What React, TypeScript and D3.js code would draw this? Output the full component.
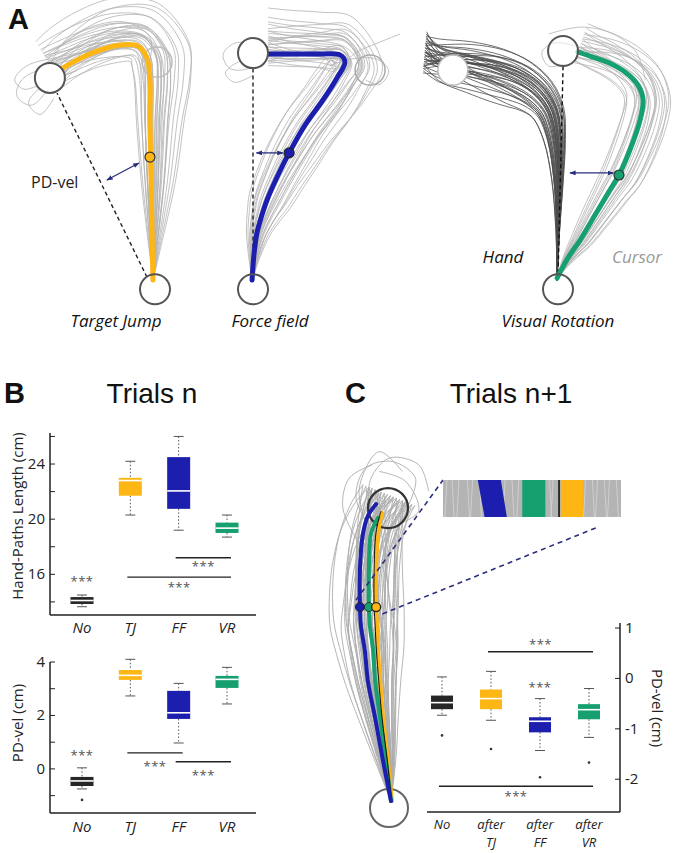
import React from 'react';
import * as d3 from 'd3';

type Pt = [number, number];

const W = 673;
const H = 853;

const YELLOW = '#fdb614';
const BLUE = '#1c1fae';
const GREEN = '#17a06f';
const BLACK = '#262626';
const SANS = '"Open Sans", "Noto Sans", sans-serif';
const ARIAL = '"Liberation Sans", Arial, sans-serif';

// ---------- Panel A: mean paths (cm from the start target, y up)
const TJ_MEAN: Pt[] = [[-0.09, 0.3], [-0.13, 2.48], [-0.17, 4.65], [-0.22, 7.26], [-0.22, 9.0], [-0.35, 9.96], [-0.74, 10.48], [-1.52, 10.52], [-2.61, 10.22], [-3.7, 9.7], [-4.35, 9.3]];
const FF_MEAN: Pt[] = [[-0.04, 0.3], [0.04, 1.39], [0.17, 2.35], [0.39, 3.13], [0.61, 3.78], [1.09, 4.87], [1.57, 5.83], [2.26, 7.04], [3.04, 8.13], [3.65, 9.09], [4.0, 9.78], [3.78, 10.09], [2.91, 10.13], [1.61, 10.13], [0.65, 10.13]];
const VR_CURSOR: Pt[] = [[-0.04, 0.39], [0.43, 1.26], [0.96, 2.04], [1.61, 3.13], [2.26, 4.22], [2.65, 4.87], [3.13, 5.96], [3.57, 7.26], [3.7, 8.13], [3.48, 8.78], [2.91, 9.35], [2.13, 9.78], [1.39, 10.04], [0.87, 10.22]];
const VR_HAND: Pt[] = [[-0.04, 0.3], [0.04, 2.48], [0.13, 4.65], [0.13, 6.39], [-0.04, 7.7], [-0.57, 8.65], [-1.43, 9.35], [-2.52, 9.78], [-3.83, 10.0], [-5.13, 10.04], [-5.8, 10.1]];

// lateral spread of single trials around the mean (cm): middle of path / end of path
const TJ_MID = [-0.75, -0.6, -0.5, -0.42, -0.35, -0.28, -0.2, -0.14, -0.08, -0.02, 0.04, 0.1, 0.16, 0.23, 0.3, 0.38, 0.46, 0.55, 0.65, 0.76, 0.88, 1.02, 1.18, 1.35, 1.55, 1.8, -0.3, 0.0, 0.2, 0.5, 0.7, -0.1, 0.35, 0.95];
const TJ_END = [0.2, -0.5, 0.6, -0.3, 0.9, 0.1, -0.7, 0.4, -0.15, 0.75, -0.35, 0.25, 1.0, -0.55, 0.5, 0.0, 1.2, -0.25, 0.85, 0.3, 1.4, -0.45, 0.65, 1.1, 1.6, 0.4, 0.5, -0.2, 0.8, 0.1, -0.4, 0.6, 1.0, 0.0];
const FF_MID = [-1.1, -0.9, -0.75, -0.6, -0.48, -0.38, -0.28, -0.2, -0.12, -0.05, 0.02, 0.1, 0.18, 0.26, 0.35, 0.45, 0.56, 0.68, 0.8, 0.95, 1.1, 1.3, -0.4, -0.15, 0.05, 0.3, 0.6, -0.7, 0.2, 0.9];
const FF_END = [0.5, -0.3, 0.8, 0.2, -0.5, 1.0, 0.0, 0.6, -0.2, 1.3, 0.3, -0.4, 0.9, 0.1, 1.6, -0.1, 0.7, 0.4, 2.0, -0.3, 1.1, 0.5, 0.2, 0.7, -0.3, 1.0, 0.4, -0.1, 1.4, 0.6];
const VR_MID = [-0.9, -0.7, -0.55, -0.42, -0.3, -0.2, -0.1, 0, 0.08, 0.16, 0.25, 0.34, 0.44, 0.55, 0.67, 0.8, 0.95, 1.1, -0.35, -0.05, 0.2, 0.5, 0.75, -0.6];
const VR_END = [0.3, -0.4, 0.6, 0.1, -0.2, 0.9, 0.2, -0.5, 0.4, 1.1, 0.0, 0.7, -0.3, 0.5, 1.3, 0.2, 0.8, -0.1, 0.4, -0.2, 0.9, 0.1, 0.6, -0.4];
const HAND_MID = [-1.8, -1.6, -1.45, -1.3, -1.18, -1.06, -0.95, -0.85, -0.76, -0.67, -0.59, -0.51, -0.44, -0.37, -0.3, -0.24, -0.18, -0.12, -0.06, 0, 0.06, 0.12, 0.19, 0.27, 0.36, 0.46, -0.9, -0.5, -0.2, -1.2, 0.1, -0.7, -0.35, -1.0, -0.8, -0.4, -0.15, -1.4, 0.25, -0.6];
const HAND_END = [0.5, -0.4, 0.8, 0.2, -0.7, 0.3, -0.1, 0.9, 0.0, -0.5, 0.4, -0.3, 0.7, 0.1, -0.8, 0.3, -0.2, 0.6, 0.1, -0.4, 0.5, -0.6, 0.8, -0.1, 0.4, -0.5, 0.2, 0.7, -0.2, 0.5, -0.3, 0.9, 0.0, -0.6, 0.6, -0.2, 0.3, 1.0, -0.5, 0.1];

const TJ_LOOPS: Pt[][] = [
  [[-3.0, 10.0], [-4.6, 9.6], [-5.8, 9.0], [-6.0, 8.3], [-5.4, 7.9], [-4.8, 8.4], [-4.5, 9.0]],
  [[-2.5, 10.3], [-4.2, 10.0], [-5.6, 9.6], [-6.1, 9.0], [-5.7, 8.6], [-5.0, 8.8]],
  [[-3.4, 9.4], [-4.8, 8.8], [-5.5, 8.0], [-5.0, 7.5], [-4.4, 8.2]],
  [[-0.3, 9.5], [-0.2, 10.8], [-1.2, 11.5], [-2.8, 11.3], [-4.2, 10.4]],
];
const FF_LOOPS: Pt[][] = [
  [[1.6, 10.2], [0.4, 10.5], [-0.8, 10.6], [-1.3, 10.1], [-1.0, 9.5], [-0.2, 9.5], [0.2, 9.9]],
  [[2.0, 10.0], [0.6, 10.0], [-0.6, 9.8], [-1.2, 9.3], [-0.8, 8.9], [0.0, 9.2]],
  [[3.6, 9.4], [4.5, 10.2], [5.4, 10.6], [6.4, 11.0]],
  [[3.3, 9.6], [4.2, 9.9], [5.4, 9.9], [5.9, 9.4], [5.5, 8.8], [4.9, 9.0]],
];
const VR_LOOPS: Pt[][] = [
  [[2.2, 9.8], [1.0, 10.4], [-0.2, 10.6], [-0.7, 10.2], [-0.4, 9.6], [0.3, 9.7]],
  [[3.8, 9.0], [3.4, 10.2], [2.4, 11.0], [1.0, 11.3], [-0.4, 11.0]],
];

// ---------- Panel C: mean paths of trials n+1 (cm, y up)
const C_BLUE: Pt[] = [[0.06, 0.21], [-0.18, 1.42], [-0.42, 2.73], [-0.64, 3.85], [-0.73, 4.76], [-0.85, 5.52], [-0.88, 6.09], [-0.88, 7.27], [-0.79, 8.3], [-0.64, 8.85], [-0.39, 9.21]];
const C_GREEN: Pt[] = [[0.06, 0.21], [-0.09, 1.42], [-0.27, 2.73], [-0.42, 3.85], [-0.48, 4.76], [-0.58, 5.52], [-0.61, 6.09], [-0.61, 7.27], [-0.55, 8.3], [-0.42, 8.64], [-0.33, 8.79]];
const C_YELLOW: Pt[] = [[0.09, 0.21], [-0.03, 1.42], [-0.18, 2.73], [-0.27, 3.85], [-0.33, 4.76], [-0.36, 5.52], [-0.39, 6.09], [-0.39, 7.27], [-0.33, 8.3], [-0.27, 8.7], [-0.21, 8.94]];
const C_NO: Pt[] = [[0.08, 0.21], [-0.05, 1.42], [-0.21, 2.73], [-0.31, 3.85], [-0.38, 4.76], [-0.42, 5.52], [-0.45, 6.09], [-0.45, 7.27], [-0.4, 8.3], [-0.3, 8.8], [-0.24, 9.0]];
const C_GRAY_MEAN: Pt[] = [[0.06, 0.21], [-0.08, 1.42], [-0.27, 2.73], [-0.42, 3.85], [-0.5, 4.76], [-0.58, 5.52], [-0.6, 6.09], [-0.58, 7.27], [-0.45, 8.3], [-0.25, 9.0], [-0.05, 9.5]];
const C_MID = [-1.05, -0.95, -0.86, -0.78, -0.7, -0.63, -0.57, -0.51, -0.46, -0.41, -0.36, -0.32, -0.28, -0.24, -0.2, -0.17, -0.14, -0.11, -0.08, -0.05, -0.02, 0.01, 0.04, 0.07, 0.1, 0.13, 0.16, 0.19, 0.23, 0.27, 0.31, 0.35, 0.4, 0.45, 0.5, 0.56, 0.62, 0.69, 0.76, 0.84, 0.92, -0.3, -0.1, 0.05, 0.2, -0.45, 0.35, -0.6, 0.55, -0.15,
  -0.38, -0.22, -0.06, 0.09, 0.25, 0.42, -0.52, 0.6, -0.12, 0.15, -0.33, 0.3, -0.02, 0.48, -0.7, 0.72];
const C_END = [-0.6, 0.3, -0.8, 0.5, -0.2, 0.7, -0.5, 0.1, 0.6, -0.7, 0.2, -0.3, 0.8, -0.1, 0.4, -0.6, 0.7, 0.0, -0.4, 0.5, -0.8, 0.3, 0.9, -0.2, 0.6, -0.5, 0.8, 0.1, -0.6, 0.4, 0.7, -0.3, 0.9, 0.2, -0.7, 0.6, 0.8, -0.1, 0.3, -0.4, 0.5, 0.1, -0.2, 0.6, -0.5, 0.2, 0.4, -0.3, 0.7, 0.0,
  0.4, -0.5, 0.2, -0.1, 0.6, -0.3, 0.1, 0.5, -0.6, 0.3, 0.0, -0.2, 0.7, -0.4, 0.2, 0.5];
const C_LOOPS: Pt[][] = [
  [[-0.5, 8.4], [-1.0, 9.4], [-0.7, 10.3], [0.1, 10.5], [0.8, 10.0], [0.6, 9.2]],
  [[-0.2, 8.8], [-0.6, 9.8], [0.0, 10.6], [0.9, 10.4], [1.2, 9.6]],
  [[-0.9, 8.0], [-1.4, 9.1], [-1.2, 10.0], [-0.5, 10.4]],
  [[0.3, 8.6], [0.9, 9.0], [0.5, 9.9], [-0.3, 10.2]],
  [[-0.7, 8.6], [-0.9, 9.7], [-0.3, 10.8], [0.4, 10.2]],
];
// zoomed inset: gray streaks behind the mean paths (cm)
const INSET_STREAKS = [-1.12, -1.09, -1.05, -1.0, -0.97, -0.93, -0.78, -0.74, -0.7, -0.66, -0.55, -0.52, -0.5, -0.34, -0.31, -0.27, -0.24, -0.2, -0.17, -0.13];

// ---------- Panel B / C box plots
type Box = { cat: string; lo: number; q1: number; med: number; q3: number; hi: number; out: number[] };
const CATS_B = ['No', 'TJ', 'FF', 'VR'];
const LENGTH_N: Box[] = [
  { cat: 'No', lo: 13.65, q1: 13.85, med: 14.1, q3: 14.35, hi: 14.5, out: [] },
  { cat: 'TJ', lo: 20.3, q1: 21.7, med: 22.8, q3: 23.0, hi: 24.2, out: [] },
  { cat: 'FF', lo: 19.2, q1: 20.75, med: 22.05, q3: 24.5, hi: 26.0, out: [] },
  { cat: 'VR', lo: 18.7, q1: 19.0, med: 19.35, q3: 19.75, hi: 20.3, out: [] },
];
const PDVEL_N: Box[] = [
  { cat: 'No', lo: -0.75, q1: -0.64, med: -0.45, q3: -0.3, hi: 0.04, out: [-1.16] },
  { cat: 'TJ', lo: 2.73, q1: 3.33, med: 3.5, q3: 3.7, hi: 4.1, out: [] },
  { cat: 'FF', lo: 0.97, q1: 1.87, med: 2.1, q3: 2.92, hi: 3.2, out: [] },
  { cat: 'VR', lo: 2.43, q1: 3.03, med: 3.35, q3: 3.48, hi: 3.8, out: [] },
];
const CATS_C = ['No', 'after TJ', 'after FF', 'after VR'];
const PDVEL_N1: Box[] = [
  { cat: 'No', lo: -0.73, q1: -0.61, med: -0.48, q3: -0.34, hi: 0.03, out: [-1.13] },
  { cat: 'after TJ', lo: -0.83, q1: -0.61, med: -0.4, q3: -0.22, hi: 0.14, out: [-1.4] },
  { cat: 'after FF', lo: -1.43, q1: -1.07, med: -0.85, q3: -0.77, hi: -0.4, out: [-1.96] },
  { cat: 'after VR', lo: -1.17, q1: -0.81, med: -0.62, q3: -0.51, hi: -0.2, out: [-1.67] },
];
const COLORS: Record<string, string> = {
  No: BLACK, TJ: YELLOW, FF: BLUE, VR: GREEN,
  'after TJ': YELLOW, 'after FF': BLUE, 'after VR': GREEN,
};

// significance bars and lone stars
type Sig = { from: string; to: string; y: number; star: number };
const LENGTH_SIG: Sig[] = [
  { from: 'FF', to: 'VR', y: 17.2, star: 16.75 },
  { from: 'TJ', to: 'VR', y: 15.8, star: 15.2 },
];
const LENGTH_STARS: [string, number][] = [['No', 15.65]];
const PDVEL_SIG: Sig[] = [
  { from: 'TJ', to: 'FF', y: 0.6, star: 0.18 },
  { from: 'FF', to: 'VR', y: 0.27, star: -0.15 },
];
const PDVEL_STARS: [string, number][] = [['No', 0.6]];
const N1_SIG: Sig[] = [
  { from: 'after TJ', to: 'after VR', y: 0.53, star: 0.72 },
  { from: 'No', to: 'after VR', y: -2.14, star: -2.3 },
];
const N1_STARS: [string, number][] = [['after FF', -0.14]];

// ---------- helpers
// one trial = mean path pushed sideways: `mid` peaks along the path, `end` grows toward the target
function spread(mean: Pt[], mid: number, end: number, k: number, g: number): Pt[] {
  const n = mean.length;
  return mean.map((p, i) => {
    const a = mean[Math.max(0, i - 1)];
    const b = mean[Math.min(n - 1, i + 1)];
    const dx = b[0] - a[0];
    const dy = b[1] - a[1];
    const L = Math.hypot(dx, dy) || 1;
    const t = i / (n - 1);
    const o = mid * Math.pow(Math.sin(Math.PI * Math.pow(t, g)), k) + end * t * t;
    return [p[0] + (dy / L) * o, p[1] - (dx / L) * o] as Pt;
  });
}

function cmScales(ox: number, oy: number, pxPerCm: number) {
  const x = d3.scaleLinear().domain([0, 1]).range([ox, ox + pxPerCm]);
  const y = d3.scaleLinear().domain([0, 1]).range([oy, oy - pxPerCm]);
  const line = d3.line<Pt>().x((d) => x(d[0])).y((d) => y(d[1])).curve(d3.curveCatmullRom.alpha(0.5));
  return { x, y, line };
}

function Bundle({ mean, mids, ends, loops, line, color, width, k = 1, g = 1 }: any) {
  return (
    <g fill="none" stroke={color} strokeWidth={width}>
      {mids.map((m: number, i: number) => (
        <path key={i} d={line(spread(mean, m, ends[i % ends.length], k, g))} />
      ))}
      {(loops || []).map((l: Pt[], i: number) => (
        <path key={'l' + i} d={line(l)} />
      ))}
    </g>
  );
}

function Stars({ x, y }: { x: number; y: number }) {
  return (
    <text x={x} y={y + 7} textAnchor="middle" fontFamily={SANS} fontSize={13} fill="#555" letterSpacing={0.5}>
      ***
    </text>
  );
}

function BoxPlot({ data, x, y, boxW }: { data: Box[]; x: any; y: any; boxW: number }) {
  return (
    <g>
      {data.map((d) => {
        const cx = x(d.cat);
        const c = COLORS[d.cat];
        return (
          <g key={d.cat}>
            <line x1={cx} x2={cx} y1={y(d.hi)} y2={y(d.q3)} stroke="#555" strokeWidth={1} strokeDasharray="1.5 2" />
            <line x1={cx} x2={cx} y1={y(d.q1)} y2={y(d.lo)} stroke="#555" strokeWidth={1} strokeDasharray="1.5 2" />
            <line x1={cx - 5} x2={cx + 5} y1={y(d.hi)} y2={y(d.hi)} stroke="#555" strokeWidth={1} />
            <line x1={cx - 5} x2={cx + 5} y1={y(d.lo)} y2={y(d.lo)} stroke="#555" strokeWidth={1} />
            <rect x={cx - boxW / 2} y={y(d.q3)} width={boxW} height={y(d.q1) - y(d.q3)} fill={c} />
            <line x1={cx - boxW / 2} x2={cx + boxW / 2} y1={y(d.med)} y2={y(d.med)} stroke="#fff" strokeWidth={1.6} />
            {d.out.map((o, i) => (
              <circle key={i} cx={cx} cy={y(o)} r={1.3} fill="#333" />
            ))}
          </g>
        );
      })}
    </g>
  );
}

function SigBars({ sig, stars, x, y }: { sig: Sig[]; stars: [string, number][]; x: any; y: any }) {
  return (
    <g>
      {sig.map((s, i) => {
        const x1 = x(s.from) - 3;
        const x2 = x(s.to) + 4;
        return (
          <g key={i}>
            <line x1={x1} x2={x2} y1={y(s.y)} y2={y(s.y)} stroke="#222" strokeWidth={1.4} />
            <Stars x={(x1 + x2) / 2} y={y(s.star)} />
          </g>
        );
      })}
      {stars.map(([c, v]) => (
        <Stars key={c} x={x(c)} y={y(v)} />
      ))}
    </g>
  );
}

function Circle({ cx, cy, r, stroke = '#555', fill = 'none', sw = 2 }: any) {
  return <circle cx={cx} cy={cy} r={r} fill={fill} stroke={stroke} strokeWidth={sw} />;
}

export default function App() {
  // ----- panel A / C trajectory scales
  const A_PX = 23;
  const tj = cmScales(155, 287, A_PX);
  const ff = cmScales(253, 287, A_PX);
  const vr = cmScales(558, 287, A_PX);
  const cc = cmScales(389, 808, 33);
  const GRAY = '#b3b3b3';

  // ----- panel B scales
  const xB = d3.scalePoint<string>().domain(CATS_B).range([82, 227]);
  const yLen = d3.scaleLinear().domain([13.05, 26.25]).range([615, 433]);
  const yPd = d3.scaleLinear().domain([-1.65, 4.0]).range([813, 662]);
  // ----- panel C scales
  const xC = d3.scalePoint<string>().domain(CATS_C).range([442, 589]);
  const yC = d3.scaleLinear().domain([-2.65, 1.1]).range([812, 623]);
  const xInset = d3.scaleLinear().domain([-1.143, -0.103]).range([443, 621]);
  const insetTop = 480;
  const insetBot = 517;

  const dotY = 6.09;

  return (
    <div style={{ position: 'absolute', left: 0, top: 0, width: W, height: H, background: '#fff' }}>
      <svg width={W} height={H} viewBox={`0 0 ${W} ${H}`} style={{ display: 'block' }}>
        <defs>
          <marker id="ah" viewBox="0 0 8 8" refX="7" refY="4" markerWidth="5" markerHeight="5" orient="auto-start-reverse">
            <path d="M0,1 L8,4 L0,7 z" fill="#2a2f7c" />
          </marker>
        </defs>
        <rect width={W} height={H} fill="#fff" />

        {/* ================= Panel A ================= */}
        <text x={8} y={29} fontFamily={ARIAL} fontWeight="bold" fontSize={29} fill="#111">A</text>

        {/* Target jump */}
        <Bundle mean={TJ_MEAN} mids={TJ_MID} ends={TJ_END} loops={TJ_LOOPS} line={tj.line} color={GRAY} width={0.8} />
        <Circle cx={tj.x(0.09)} cy={tj.y(9.78)} r={15} stroke="#bbb" sw={1.5} />
        <line x1={tj.x(-0.35)} y1={tj.y(0.43)} x2={tj.x(-4.26)} y2={tj.y(8.43)} stroke="#222" strokeWidth={1.4} strokeDasharray="4 3" />
        <path d={tj.line(TJ_MEAN) || ''} fill="none" stroke={YELLOW} strokeWidth={5} strokeLinecap="round" />
        <Circle cx={tj.x(-4.57)} cy={tj.y(9.09)} r={15} fill="#fff" />
        <Circle cx={tj.x(0)} cy={tj.y(-0.1)} r={15} />
        <line x1={tj.x(-2.09)} y1={tj.y(4.65)} x2={tj.x(-0.7)} y2={tj.y(5.39)} stroke="#2a2f7c" strokeWidth={1.3} markerStart="url(#ah)" markerEnd="url(#ah)" />
        <circle cx={tj.x(-0.22)} cy={tj.y(5.65)} r={5} fill={YELLOW} stroke="#333" strokeWidth={1.2} />
        <text x={31} y={188} fontFamily={SANS} fontSize={16} fill="#222">PD-vel</text>
        <text x={116} y={327} textAnchor="middle" fontFamily={SANS} fontStyle="italic" fontSize={17} fill="#111">Target Jump</text>

        {/* Force field */}
        <Bundle mean={FF_MEAN} mids={FF_MID} ends={FF_END} loops={FF_LOOPS} line={ff.line} color={GRAY} width={0.8} />
        <Circle cx={ff.x(5.09)} cy={ff.y(9.43)} r={15} stroke="#aaa" sw={1.5} />
        <line x1={ff.x(0)} y1={ff.y(9.5)} x2={ff.x(0)} y2={ff.y(0.5)} stroke="#222" strokeWidth={1.4} strokeDasharray="4 3" />
        <path d={ff.line(FF_MEAN) || ''} fill="none" stroke={BLUE} strokeWidth={5} strokeLinecap="round" />
        <Circle cx={ff.x(0)} cy={ff.y(10.17)} r={15} fill="#fff" />
        <Circle cx={ff.x(0)} cy={ff.y(-0.1)} r={15} />
        <line x1={ff.x(0.15)} y1={ff.y(5.83)} x2={ff.x(1.3)} y2={ff.y(5.83)} stroke="#2a2f7c" strokeWidth={1.3} markerStart="url(#ah)" markerEnd="url(#ah)" />
        <circle cx={ff.x(1.57)} cy={ff.y(5.83)} r={5} fill={BLUE} stroke="#222" strokeWidth={1.2} />
        <text x={270} y={327} textAnchor="middle" fontFamily={SANS} fontStyle="italic" fontSize={17} fill="#111">Force field</text>

        {/* Visual rotation */}
        <Bundle mean={VR_CURSOR} mids={VR_MID} ends={VR_END} loops={VR_LOOPS} line={vr.line} color={GRAY} width={0.8} />
        <Bundle mean={VR_HAND} mids={HAND_MID} ends={HAND_END} line={vr.line} color="#4d4d4d" width={0.8} k={1} g={1.6} />
        <Circle cx={vr.x(-4.57)} cy={vr.y(9.43)} r={15} stroke="#bbb" fill="#fff" sw={1.5} />
        <line x1={vr.x(0.22)} y1={vr.y(9.6)} x2={vr.x(0)} y2={vr.y(0.4)} stroke="#111" strokeWidth={1.4} strokeDasharray="4 3" />
        <path d={vr.line(VR_CURSOR) || ''} fill="none" stroke={GREEN} strokeWidth={5} strokeLinecap="round" />
        <Circle cx={vr.x(0.22)} cy={vr.y(10.26)} r={15} fill="rgba(255,255,255,0.55)" />
        <Circle cx={vr.x(0)} cy={vr.y(-0.1)} r={15} />
        <line x1={vr.x(0.52)} y1={vr.y(4.96)} x2={vr.x(2.4)} y2={vr.y(4.96)} stroke="#2a2f7c" strokeWidth={1.3} markerStart="url(#ah)" markerEnd="url(#ah)" />
        <circle cx={vr.x(2.65)} cy={vr.y(4.87)} r={5} fill={GREEN} stroke="#333" strokeWidth={1.2} />
        <text x={503} y={263} textAnchor="middle" fontFamily={SANS} fontStyle="italic" fontSize={17} fill="#111">Hand</text>
        <text x={637} y={263} textAnchor="middle" fontFamily={SANS} fontStyle="italic" fontSize={17} fill="#999">Cursor</text>
        <text x={558} y={327} textAnchor="middle" fontFamily={SANS} fontStyle="italic" fontSize={17} fill="#111">Visual Rotation</text>

        {/* ================= Panel B ================= */}
        <text x={4} y={403} fontFamily={ARIAL} fontWeight="bold" fontSize={29} fill="#111">B</text>
        <text x={152} y={403} textAnchor="middle" fontFamily={ARIAL} fontSize={28} fill="#111">Trials n</text>

        {/* hand path length */}
        <g fontFamily={SANS} fontSize={15} fill="#222">
          <line x1={50} x2={50} y1={433} y2={615} stroke="#222" strokeWidth={1.5} />
          <line x1={50} x2={256} y1={615} y2={615} stroke="#222" strokeWidth={1.5} />
          {d3.range(14, 27, 2).map((t) => (
            <g key={t}>
              <line x1={50} x2={55} y1={yLen(t)} y2={yLen(t)} stroke="#222" />
              {t % 4 === 0 && <text x={45} y={yLen(t) + 5} textAnchor="end">{t}</text>}
            </g>
          ))}
          {CATS_B.map((c) => (
            <text key={c} x={xB(c)} y={633} textAnchor="middle" fontStyle="italic">{c}</text>
          ))}
          <text transform="translate(23,516) rotate(-90)" textAnchor="middle">Hand-Paths Length (cm)</text>
        </g>
        <BoxPlot data={LENGTH_N} x={xB} y={yLen} boxW={23} />
        <SigBars sig={LENGTH_SIG} stars={LENGTH_STARS} x={xB} y={yLen} />

        {/* PD-vel trials n */}
        <g fontFamily={SANS} fontSize={15} fill="#222">
          <line x1={50} x2={50} y1={662} y2={813} stroke="#222" strokeWidth={1.5} />
          <line x1={50} x2={256} y1={813} y2={813} stroke="#222" strokeWidth={1.5} />
          {d3.range(-1, 5, 1).map((t) => (
            <g key={t}>
              <line x1={50} x2={55} y1={yPd(t)} y2={yPd(t)} stroke="#222" />
              {t % 2 === 0 && <text x={45} y={yPd(t) + 5} textAnchor="end">{t}</text>}
            </g>
          ))}
          {CATS_B.map((c) => (
            <text key={c} x={xB(c)} y={832} textAnchor="middle" fontStyle="italic">{c}</text>
          ))}
          <text transform="translate(23,723) rotate(-90)" textAnchor="middle">PD-vel (cm)</text>
        </g>
        <BoxPlot data={PDVEL_N} x={xB} y={yPd} boxW={23} />
        <SigBars sig={PDVEL_SIG} stars={PDVEL_STARS} x={xB} y={yPd} />

        {/* ================= Panel C ================= */}
        <text x={345} y={403} fontFamily={ARIAL} fontWeight="bold" fontSize={29} fill="#111">C</text>
        <text x={511} y={403} textAnchor="middle" fontFamily={ARIAL} fontSize={28} fill="#111">Trials n+1</text>

        <Bundle mean={C_GRAY_MEAN} mids={C_MID} ends={C_END} loops={C_LOOPS} line={cc.line} color="#adadad" width={0.9} />
        <Circle cx={cc.x(-0.03)} cy={cc.y(9.09)} r={20} stroke="#333" sw={2.2} />
        <Circle cx={cc.x(0)} cy={cc.y(0)} r={19} stroke="#666" sw={2} />
        <path d={cc.line(C_YELLOW) || ''} fill="none" stroke={YELLOW} strokeWidth={4} strokeLinecap="round" />
        <path d={cc.line(C_GREEN) || ''} fill="none" stroke={GREEN} strokeWidth={4} strokeLinecap="round" />
        <path d={cc.line(C_NO) || ''} fill="none" stroke="#111" strokeWidth={1} />
        <path d={cc.line(C_BLUE) || ''} fill="none" stroke={BLUE} strokeWidth={4} strokeLinecap="round" />
        <circle cx={cc.x(-0.61)} cy={cc.y(dotY)} r={4.5} fill={GREEN} stroke="#333" strokeWidth={1} />
        <circle cx={cc.x(-0.88)} cy={cc.y(dotY)} r={4.5} fill={BLUE} stroke="#222" strokeWidth={1} />
        <circle cx={cc.x(-0.39)} cy={cc.y(dotY)} r={4.5} fill={YELLOW} stroke="#222" strokeWidth={1.3} />

        {/* zoom lines + inset */}
        <line x1={cc.x(-1.0)} y1={cc.y(6.3)} x2={xInset(-1.143)} y2={insetTop} stroke="#2a2f7c" strokeWidth={1.6} strokeDasharray="5 4" />
        <line x1={cc.x(-0.2)} y1={cc.y(5.88)} x2={598} y2={527} stroke="#2a2f7c" strokeWidth={1.6} strokeDasharray="5 4" />
        <rect x={xInset(-1.143)} y={insetTop} width={xInset(-0.103) - xInset(-1.143)} height={insetBot - insetTop} fill="#b4b4b4" />
        <g stroke="#d6d6d6" strokeWidth={0.8}>
          {INSET_STREAKS.map((s, i) => (
            <line key={i} x1={xInset(s)} x2={xInset(s) + (i % 2 ? 2 : -2)} y1={insetTop} y2={insetBot} />
          ))}
        </g>
        <path
          d={`M${xInset(-0.94)},${insetTop} L${xInset(-0.805)},${insetTop} L${xInset(-0.77)},${insetBot} L${xInset(-0.9)},${insetBot} Z`}
          fill={BLUE}
        />
        <rect x={xInset(-0.68)} y={insetTop} width={xInset(-0.545) - xInset(-0.68)} height={insetBot - insetTop} fill={GREEN} />
        <line x1={xInset(-0.465)} x2={xInset(-0.465)} y1={insetTop} y2={insetBot} stroke="#111" strokeWidth={1.6} />
        <rect x={xInset(-0.455)} y={insetTop} width={xInset(-0.325) - xInset(-0.455)} height={insetBot - insetTop} fill={YELLOW} />

        {/* PD-vel trials n+1 */}
        <g fontFamily={SANS} fontSize={15} fill="#222">
          <line x1={620} x2={620} y1={623} y2={812} stroke="#222" strokeWidth={1.5} />
          <line x1={427} x2={620} y1={812} y2={812} stroke="#222" strokeWidth={1.5} />
          {d3.range(-2, 2, 1).map((t) => (
            <g key={t}>
              <line x1={615} x2={620} y1={yC(t)} y2={yC(t)} stroke="#222" />
              <text x={625} y={yC(t) + 5}>{t}</text>
            </g>
          ))}
          {CATS_C.map((c) =>
            c.split(' ').map((p, i) => (
              <text key={c + i} x={xC(c)} y={i === 0 ? 829 : 847} textAnchor="middle" fontStyle="italic" fontSize={13}>
                {p}
              </text>
            ))
          )}
          <text transform="translate(652,708) rotate(90)" textAnchor="middle">PD-vel (cm)</text>
        </g>
        <BoxPlot data={PDVEL_N1} x={xC} y={yC} boxW={22} />
        <SigBars sig={N1_SIG} stars={N1_STARS} x={xC} y={yC} />
      </svg>
    </div>
  );
}
